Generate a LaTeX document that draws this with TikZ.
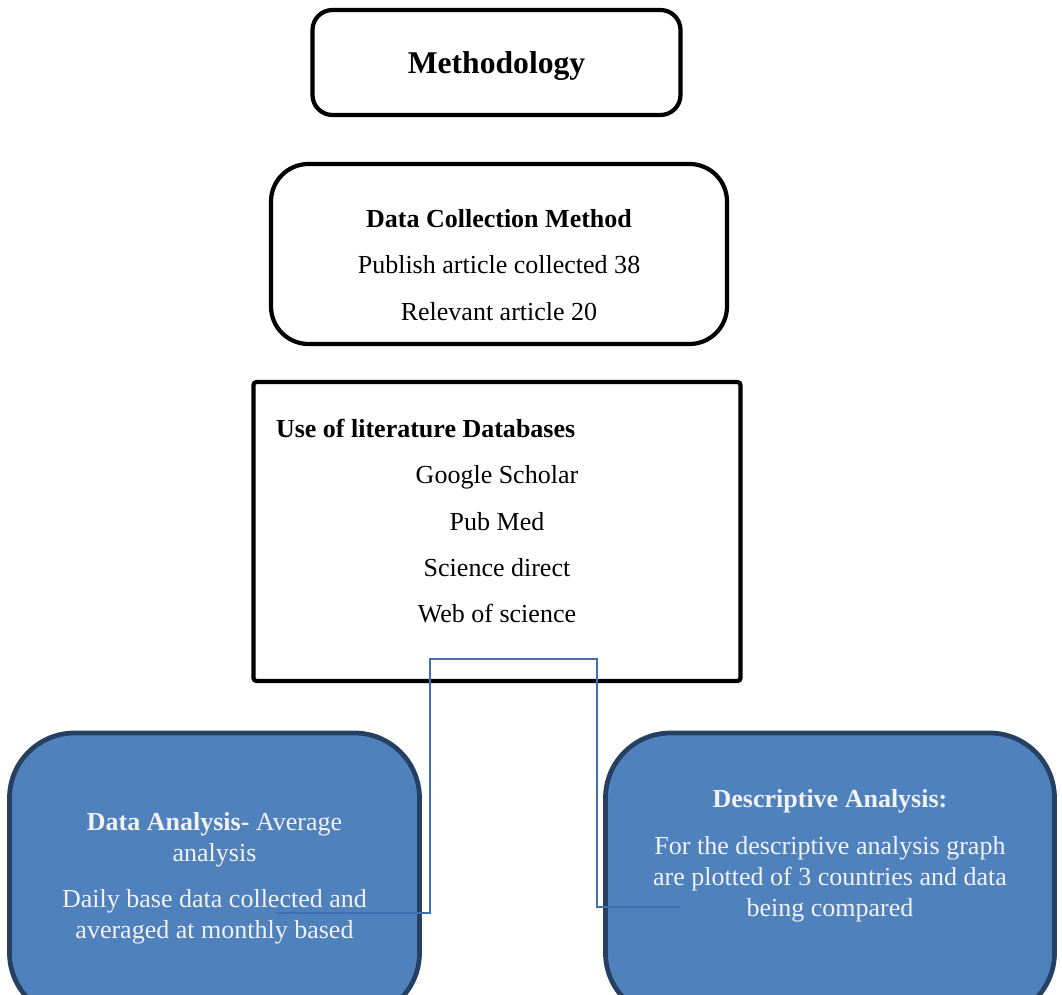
\documentclass[tikz,border=0pt]{standalone}
\usepackage{fontspec}
\setmainfont{Liberation Serif}
\definecolor{boxblue}{HTML}{4F81BD}
\definecolor{boxnavy}{HTML}{254061}
\definecolor{boxwhite}{HTML}{F2F2F2}
\definecolor{linkblue}{HTML}{4070B0}
\begin{document}
\begin{tikzpicture}[
    roundbox/.style={rectangle, rounded corners=#1, draw=black, line width=2.4pt, fill=white},
    bluebox/.style={rectangle, rounded corners=1.3cm, draw=boxnavy, line width=2.7pt, fill=boxblue, minimum width=8.2cm, minimum height=5.7cm},
    bluetext/.style={text=boxwhite, align=center, font=\fontsize{14.8}{17.6}\selectfont},
    link/.style={draw=linkblue, line width=0.85pt}
]
    \useasboundingbox (0,0) rectangle (21.24,-19.9);
    \clip (0,0) rectangle (21.24,-19.9);

    \node[roundbox=0.4cm, minimum width=7.36cm, minimum height=2.1cm, text depth=0pt, font=\fontsize{18}{22}\selectfont\bfseries] (method) at (9.93,-1.25) {Methodology};
    \node[roundbox=0.75cm, minimum width=9.12cm, minimum height=3.6cm, align=center, font=\fontsize{14.8}{26.6}\selectfont] (collection) at (9.98,-5.08)
        {\rule{0pt}{0.8cm}\textbf{Data Collection Method}\\Publish article collected 38\\Relevant article 20};
    \node[roundbox=0.06cm, minimum width=9.74cm, minimum height=5.98cm, align=center, font=\fontsize{14.8}{26.4}\selectfont] (databases) at (9.94,-10.63)
        {\makebox[8.84cm][l]{\bfseries Use of literature Databases}\\Google Scholar\\Pub Med\\Science direct\\Web of science\rule[-0.42cm]{0pt}{0pt}};

    \node[bluebox, minimum width=8.2cm] (analysis) at (4.29,-17.51) {};
    \node[bluebox, minimum width=8.98cm] (descriptive) at (16.6,-17.51) {};
    \node[bluetext] (analysis text) at ([yshift=-0.06cm]analysis.center)
        {\textbf{Data Analysis-} Average\\analysis\\[0.3cm]Daily base data collected and\\averaged at monthly based};
    \node[bluetext] (descriptive text) at ([yshift=0.39cm]descriptive.center)
        {\textbf{Descriptive Analysis:}\\[0.32cm]For the descriptive analysis graph\\are plotted of 3 countries and data\\being compared};

    \coordinate (hub) at (10.4,-13.18);
    \coordinate (analysis in) at (5.5,-18.26);
    \coordinate (descriptive in) at (13.6,-18.14);
    \draw[link] (hub) -- ++(-1.8,0) |- (analysis in);
    \draw[link] (hub) -- ++(1.54,0) |- (descriptive in);

\end{tikzpicture}
\end{document}
